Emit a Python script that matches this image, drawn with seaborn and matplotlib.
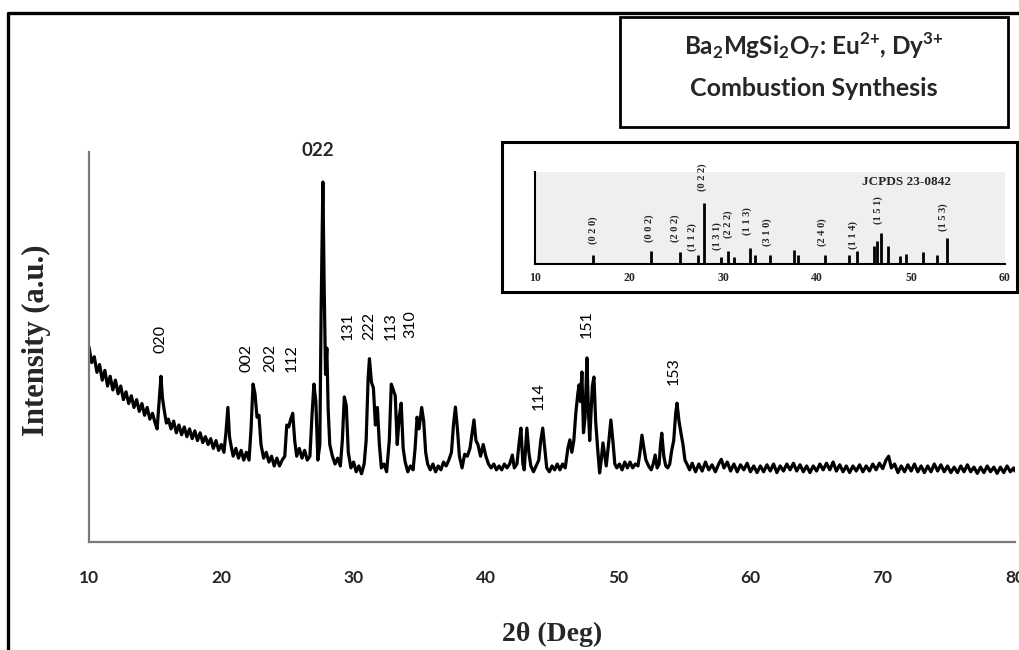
import matplotlib
matplotlib.use("Agg")
import matplotlib.pyplot as plt
import seaborn as sns
from matplotlib.lines import Line2D
from matplotlib.patches import Rectangle

# XRD pattern (2theta in deg, intensity in axis units 0-10)
two_theta = [
    10.0, 10.2, 10.4, 10.6, 10.8, 11.0, 11.2, 11.4, 11.6, 11.8,
    12.0, 12.2, 12.4, 12.6, 12.8, 13.0, 13.2, 13.4, 13.6, 13.8,
    14.0, 14.2, 14.4, 14.6, 14.8, 15.0, 15.15, 15.3, 15.44, 15.55,
    15.7, 15.85, 16.0, 16.2, 16.4, 16.6, 16.8, 17.0, 17.2, 17.4,
    17.6, 17.8, 18.0, 18.2, 18.4, 18.6, 18.8, 19.0, 19.2, 19.4,
    19.6, 19.8, 20.0, 20.2, 20.35, 20.5, 20.62, 20.75, 20.9, 21.1,
    21.3, 21.5, 21.7, 21.9, 22.1, 22.25, 22.4, 22.55, 22.7, 22.85,
    23.0, 23.2, 23.4, 23.6, 23.8, 24.0, 24.2, 24.4, 24.6, 24.8,
    24.95, 25.1, 25.25, 25.4, 25.55, 25.7, 25.9, 26.1, 26.3, 26.5,
    26.7, 26.85, 27.0, 27.15, 27.3, 27.45, 27.55, 27.68, 27.78, 27.88,
    27.98, 28.08, 28.2, 28.4, 28.6, 28.8, 29.0, 29.15, 29.3, 29.45,
    29.6, 29.8, 30.0, 30.2, 30.4, 30.6, 30.8, 30.95, 31.1, 31.2,
    31.35, 31.5, 31.65, 31.8, 31.95, 32.1, 32.3, 32.5, 32.7, 32.85,
    33.0, 33.15, 33.3, 33.45, 33.6, 33.75, 33.9, 34.1, 34.3, 34.5,
    34.65, 34.8, 34.95, 35.15, 35.3, 35.45, 35.6, 35.8, 36.0, 36.2,
    36.4, 36.6, 36.8, 37.0, 37.2, 37.4, 37.55, 37.7, 37.85, 38.0,
    38.2, 38.4, 38.6, 38.8, 39.0, 39.1, 39.25, 39.4, 39.6, 39.8,
    40.0, 40.2, 40.4, 40.6, 40.8, 41.0, 41.2, 41.4, 41.6, 41.8,
    42.0, 42.15, 42.35, 42.5, 42.65, 42.8, 42.9, 43.0, 43.1, 43.25,
    43.4, 43.6, 43.8, 44.0, 44.15, 44.3, 44.45, 44.6, 44.8, 45.0,
    45.2, 45.4, 45.6, 45.8, 46.0, 46.2, 46.35, 46.5, 46.65, 46.8,
    46.95, 47.05, 47.15, 47.26, 47.38, 47.5, 47.64, 47.75, 47.85, 47.95,
    48.05, 48.17, 48.3, 48.45, 48.6, 48.72, 48.85, 48.95, 49.1, 49.3,
    49.45, 49.6, 49.75, 49.9, 50.1, 50.3, 50.5, 50.7, 50.9, 51.1,
    51.3, 51.5, 51.65, 51.8, 51.95, 52.1, 52.3, 52.5, 52.65, 52.8,
    52.95, 53.1, 53.2, 53.3, 53.45, 53.6, 53.75, 53.9, 54.05, 54.2,
    54.35, 54.45, 54.6, 54.75, 54.9, 55.05, 55.2, 55.4, 55.6, 55.85,
    56.1, 56.35, 56.6, 56.85, 57.1, 57.35, 57.6, 57.8, 58.0, 58.25,
    58.5, 58.75, 59.0, 59.25, 59.5, 59.75, 60.0, 60.25, 60.5, 60.75,
    61.0, 61.25, 61.5, 61.75, 62.0, 62.25, 62.5, 62.75, 63.0, 63.25,
    63.5, 63.75, 64.0, 64.25, 64.5, 64.75, 65.0, 65.25, 65.5, 65.75,
    66.0, 66.25, 66.5, 66.75, 67.0, 67.25, 67.5, 67.75, 68.0, 68.25,
    68.5, 68.75, 69.0, 69.25, 69.5, 69.75, 70.0, 70.25, 70.45, 70.65,
    70.9, 71.15, 71.4, 71.65, 71.9, 72.15, 72.4, 72.65, 72.9, 73.15,
    73.4, 73.65, 73.9, 74.15, 74.4, 74.65, 74.9, 75.15, 75.4, 75.65,
    75.9, 76.15, 76.4, 76.65, 76.9, 77.15, 77.4, 77.65, 77.9, 78.15,
    78.4, 78.65, 78.9, 79.15, 79.4, 79.65, 79.9, 80.0,
]
intensity = [
    5.0, 4.6, 4.75, 4.35, 4.55, 4.15, 4.4, 4.0, 4.25, 3.9,
    4.15, 3.8, 4.0, 3.65, 3.85, 3.55, 3.75, 3.45, 3.65, 3.35,
    3.55, 3.25, 3.45, 3.15, 3.3, 3.05, 2.9, 3.6, 4.25, 3.7,
    3.35, 3.05, 3.15, 2.9, 3.1, 2.8, 3.0, 2.75, 2.95, 2.7,
    2.9, 2.65, 2.85, 2.6, 2.8, 2.55, 2.7, 2.5, 2.65, 2.4,
    2.6, 2.35, 2.5, 2.3, 2.8, 3.45, 2.7, 2.45, 2.2, 2.4,
    2.15, 2.35, 2.1, 2.3, 2.1, 2.9, 4.05, 3.8, 3.2, 3.25,
    2.5, 2.15, 2.3, 2.05, 2.2, 1.95, 2.15, 1.95, 2.1, 2.2,
    3.0, 2.95, 3.15, 3.3, 2.6, 2.2, 2.4, 2.15, 2.35, 2.1,
    2.2, 3.2, 4.05, 3.6, 2.1, 2.5, 6.0, 9.23, 6.5, 4.3,
    4.97, 3.4, 2.5, 2.2, 2.0, 2.15, 1.95, 2.6, 3.72, 3.5,
    2.3, 1.9, 2.05, 1.8, 1.95, 1.75, 2.0, 2.6, 4.2, 4.7,
    4.1, 3.95, 3.0, 3.45, 2.5, 1.9, 2.0, 1.8, 2.6, 4.05,
    3.9, 3.75, 2.5, 3.2, 3.56, 2.4, 2.05, 1.8, 1.95, 1.85,
    2.4, 3.2, 2.9, 3.45, 3.1, 2.3, 2.0, 1.85, 2.0, 1.8,
    1.95, 1.85, 2.05, 1.95, 2.1, 2.3, 3.0, 3.46, 2.9, 2.2,
    1.9, 2.25, 2.2, 2.4, 2.9, 3.13, 2.6, 2.5, 2.2, 2.5,
    2.2, 2.0, 1.9, 2.0, 1.85, 1.95, 1.85, 2.0, 1.9, 2.0,
    2.23, 1.9, 2.0, 2.5, 2.92, 2.0, 1.85, 2.4, 2.92, 2.3,
    1.95, 1.8, 1.95, 2.1, 2.6, 2.92, 2.4, 1.9, 1.8, 1.95,
    1.85, 2.0, 1.85, 2.0, 1.9, 2.4, 2.62, 2.3, 2.6, 3.3,
    3.8, 4.03, 3.6, 4.36, 2.8, 3.2, 4.72, 3.4, 2.6, 3.3,
    4.0, 4.23, 3.1, 2.4, 1.77, 2.1, 2.54, 2.3, 1.95, 2.6,
    3.13, 2.6, 2.0, 1.9, 2.0, 1.85, 2.05, 1.9, 2.05, 1.9,
    2.0, 1.95, 2.3, 2.74, 2.4, 2.1, 1.95, 1.85, 2.0, 2.23,
    1.9, 2.0, 2.5, 2.79, 2.2, 1.95, 1.9, 2.0, 2.35, 2.6,
    3.3, 3.56, 3.1, 2.79, 2.5, 2.1, 2.0, 1.85, 2.02, 1.8,
    2.0, 1.82, 2.05, 1.85, 1.98, 1.8, 2.0, 2.12, 1.9, 2.05,
    1.82, 2.0, 1.8, 1.98, 1.85, 2.02, 1.8, 1.95, 1.78, 1.95,
    1.8, 1.98, 1.82, 2.0, 1.78, 1.95, 1.82, 2.0, 1.85, 2.02,
    1.82, 1.98, 1.8, 1.95, 1.78, 1.95, 1.82, 2.0, 1.85, 2.02,
    1.85, 2.05, 1.82, 1.98, 1.8, 1.95, 1.78, 1.95, 1.82, 1.98,
    1.8, 1.95, 1.82, 2.0, 1.85, 2.02, 1.88, 2.1, 2.2, 1.9,
    2.0, 1.78, 1.95, 1.8, 1.98, 1.82, 2.0, 1.8, 1.95, 1.78,
    1.95, 1.8, 2.0, 1.82, 1.98, 1.8, 1.95, 1.78, 1.92, 1.78,
    1.95, 1.8, 1.98, 1.8, 1.92, 1.76, 1.92, 1.78, 1.95, 1.8,
    1.92, 1.76, 1.92, 1.78, 1.95, 1.8, 1.9, 1.82,
]

# peak labels on the main pattern (label, 2theta, bottom of text in axis units)
peak_labels = ["020", "002", "202", "112", "131", "222", "113", "310", "114", "151", "153"]
peak_label_x = [15.37, 21.87, 23.68, 25.34, 29.58, 31.16, 32.83, 34.27, 44.01, 47.64, 54.22]
peak_label_y = [4.85, 4.36, 4.36, 4.36, 5.18, 5.18, 5.18, 5.23, 3.38, 5.23, 4.03]

# JCPDS 23-0842 reference sticks (relative intensity, 022 = 100)
ref_pos = [16.2, 22.3, 25.4, 27.3, 28.0, 29.75, 30.5, 31.2, 32.9, 33.4,
           35.0, 37.5, 38.0, 40.8, 43.4, 44.3, 46.1, 46.4, 46.8, 47.6,
           48.8, 49.5, 51.3, 52.8, 53.8]
ref_int = [15, 21, 20, 14, 100, 11, 21, 11, 26, 15,
           15, 23, 15, 15, 15, 21, 29, 38, 51, 29,
           13, 17, 19, 15, 43]
ref_labels = ["(0 2 0)", "(0 0 2)", "(2 0 2)", "(1 1 2)", "(0 2 2)", "(1 3 1)", "(2 2 2)",
              "(1 1 3)", "(3 1 0)", "(2 4 0)", "(1 1 4)", "(1 5 1)", "(1 5 3)"]
ref_label_x = [16.2, 22.2, 24.9, 26.7, 27.8, 29.4, 30.6, 32.6, 34.7, 40.5, 43.8, 46.5, 53.4]
ref_label_y = [56, 59, 59, 44, 143, 46, 66, 70, 52, 52, 48, 89, 77]

sns.set_theme(style="white")
plt.rcParams["mathtext.fontset"] = "custom"
plt.rcParams["mathtext.rm"] = "Lato"
plt.rcParams["mathtext.bf"] = "Lato:bold"

W, H = 1020, 650
fig = plt.figure(figsize=(W / 100, H / 100), dpi=100)
fig.patch.set_facecolor("white")

# main pattern
ax = fig.add_axes([89 / W, 1 - 542 / H, 926 / W, 390 / H])
sns.lineplot(x=two_theta, y=intensity, ax=ax, color="black", lw=2.3,
             estimator=None, sort=False)
ax.set_xlim(10, 80)
ax.set_ylim(0, 10)
ax.set_xticks(range(10, 81, 10))
ax.set_yticks(range(0, 11))
ax.set_yticklabels([])
for s in ["top", "right"]:
    ax.spines[s].set_visible(False)
for s in ["left", "bottom"]:
    ax.spines[s].set_color("#7a7a7a")
    ax.spines[s].set_linewidth(1.6)
ax.tick_params(axis="x", direction="inout", length=6, width=1.2, color="#7a7a7a",
               pad=17, labelsize=12.5)
ax.tick_params(axis="y", direction="inout", length=5, width=1.2, color="#7a7a7a")
for lab in ax.get_xticklabels():
    lab.set_fontfamily("Lato")
    lab.set_fontweight("bold")
ax.set_xlabel("")
ax.set_ylabel("")

for lab, x, y in zip(peak_labels, peak_label_x, peak_label_y):
    ax.text(x, y, lab, rotation=90, ha="center", va="bottom", fontsize=11.5,
            fontfamily="Lato", color="black")
ax.text(27.31, 10.05, "022", ha="center", va="center", fontsize=13.5,
        fontfamily="Lato", fontweight="bold", clip_on=False)

fig.text(552 / W, 1 - 634 / H, "2θ (Deg)", ha="center", va="center",
         fontsize=20, fontfamily="Liberation Serif", fontweight="bold")
fig.text(36 / W, 1 - 340 / H, "Intensity (a.u.)", ha="center", va="center",
         rotation=90, fontsize=22, fontfamily="Liberation Serif", fontweight="bold")

# outer frame lines
fig.add_artist(Line2D([8 / W, 8 / W, 1.0], [0.0, 1 - 13 / H, 1 - 13 / H],
                      transform=fig.transFigure, color="black", lw=2.4))

# title box
fig.add_artist(Rectangle((620 / W, 1 - 127 / H), 388 / W, 110 / H,
                         transform=fig.transFigure, facecolor="white",
                         edgecolor="black", lw=2.0, zorder=2))
fig.text(814 / W, 1 - 46 / H,
         r"Ba$_\mathbf{2}$MgSi$_\mathbf{2}$O$_\mathbf{7}$: "
         r"Eu$^{\mathbf{2}{\mathbf{+}}}$, Dy$^{\mathbf{3}{\mathbf{+}}}$",
         ha="center", va="center", fontsize=17.5, fontfamily="Lato", fontweight="bold",
         zorder=3)
fig.text(814 / W, 1 - 88 / H, "Combustion Synthesis", ha="center", va="center",
         fontsize=18, fontfamily="Lato", fontweight="bold", zorder=3)

# inset box with the reference pattern
fig.add_artist(Rectangle((502 / W, 1 - 292 / H), 515 / W, 150 / H,
                         transform=fig.transFigure, facecolor="white",
                         edgecolor="black", lw=2.2, zorder=2))
ax2 = fig.add_axes([535 / W, 1 - 264 / H, 470 / W, 92 / H], zorder=3)
ax2.set_facecolor("#efefef")
ax2.vlines(ref_pos, 0, ref_int, color="black", lw=2.0)
ax2.set_xlim(10, 60)
ax2.set_ylim(0, 151)
ax2.set_xticks(range(10, 61, 10))
ax2.set_yticks([0, 50, 100, 150])
ax2.set_yticklabels([])
for s in ["top", "right"]:
    ax2.spines[s].set_visible(False)
for s in ["left", "bottom"]:
    ax2.spines[s].set_color("black")
    ax2.spines[s].set_linewidth(1.5)
ax2.tick_params(axis="both", direction="inout", length=4, width=1.0, color="black",
                pad=4, labelsize=8.5)
for lab in ax2.get_xticklabels():
    lab.set_fontfamily("Liberation Serif")
    lab.set_fontweight("bold")
for lab, x, y in zip(ref_labels, ref_label_x, ref_label_y):
    ax2.text(x, y, lab, rotation=90, ha="center", va="center", fontsize=7.5,
             fontfamily="Liberation Serif", fontweight="bold", clip_on=False)
ax2.text(49.5, 135, "JCPDS 23-0842", ha="center", va="center", fontsize=9.5,
         fontfamily="Liberation Serif", fontweight="bold")

fig.savefig("out.png", dpi=100)
plt.close(fig)
